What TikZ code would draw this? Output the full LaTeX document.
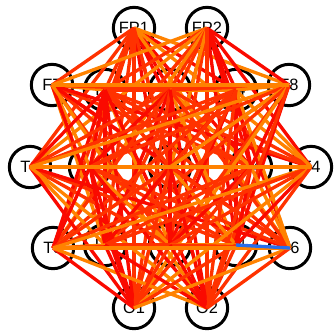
\documentclass[tikz,border=0pt]{standalone}
\usepackage{fontspec}
\setmainfont{Liberation Sans}
\definecolor{linkred}{RGB}{250,10,0}
\definecolor{linkmid}{RGB}{255,50,0}
\definecolor{linkorange}{RGB}{255,130,0}
\definecolor{linkblue}{RGB}{40,110,235}
\begin{document}
\begin{tikzpicture}[
    x=0.3mm, y=-0.3mm,
    electrode/.style={circle, draw=black, fill=white, line width=0.9mm,
                      minimum size=12.4mm, inner sep=0pt,
                      font=\fontsize{14}{14}\selectfont},
    link0/.style={draw=linkred},
    link1/.style={draw=linkmid},
    link2/.style={draw=linkred},
    link3/.style={draw=linkorange},
    link4/.style={draw=linkmid},
    linkline/.style={line width=1.0mm}
]
\useasboundingbox (0,0) rectangle (334,331);

%% ---- electrodes ----
\node[electrode] (FP1) at (134, 28) {FP1};
\node[electrode] (FP2) at (207, 28) {FP2};
\node[electrode] (F7)  at ( 52, 85) {F7};
\node[electrode] (F3)  at (105, 90) {F3};
\node[electrode] (Fz)  at (170, 90) {Fz};
\node[electrode] (F4)  at (236, 90) {F4};
\node[electrode] (F8)  at (289, 85) {F8};
\node[electrode] (T3)  at ( 30,167) {T3};
\node[electrode] (C3)  at ( 90,167) {C3};
\node[electrode] (Cz)  at (170,167) {Cz};
\node[electrode] (C4)  at (251,167) {C4};
\node[electrode] (T4)  at (311,167) {T4};
\node[electrode] (T5)  at ( 53,248) {T5};
\node[electrode] (P3)  at (105,245) {P3};
\node[electrode] (Pz)  at (170,245) {Pz};
\node[electrode] (P4)  at (236,245) {P4};
\node[electrode] (T6)  at (290,248) {T6};
\node[electrode] (O1)  at (134,308) {O1};
\node[electrode] (O2)  at (207,308) {O2};

%% ---- links (all pairs but the outer neighbours) ----
\foreach \s [count=\i] in {FP1,FP2,F7,F3,Fz,F4,F8,T3,C3,Cz,C4,T4,T5,P3,Pz,P4,T6,O1,O2}{
  \foreach \t [count=\j] in {FP1,FP2,F7,F3,Fz,F4,F8,T3,C3,Cz,C4,T4,T5,P3,Pz,P4,T6,O1,O2}{
    \ifnum\j>\i
      \pgfmathtruncatemacro\c{100*\i+\j}
      \pgfmathtruncatemacro\gap{(\c==102)||(\c==308)||(\c==313)||(\c==813)||(\c==712)||(\c==717)||(\c==1217)||(\c==1617)||(\c==1819)}
      \ifnum\gap=0
        \pgfmathtruncatemacro\k{mod(\i*7+\j*3,5)}
        \draw[linkline, link\k] (\s.center) -- (\t.center);
      \fi
    \fi
  }
}
\draw[linkline, linkorange] (T3.center) -- (T4.center);
\draw[linkline, linkorange] (T5.center) -- (T6.center);
\draw[linkline, linkorange] (F7.center) -- (F8.center);
\draw[linkline, linkblue] (P4.center) -- (T6.center);

\end{tikzpicture}
\end{document}
